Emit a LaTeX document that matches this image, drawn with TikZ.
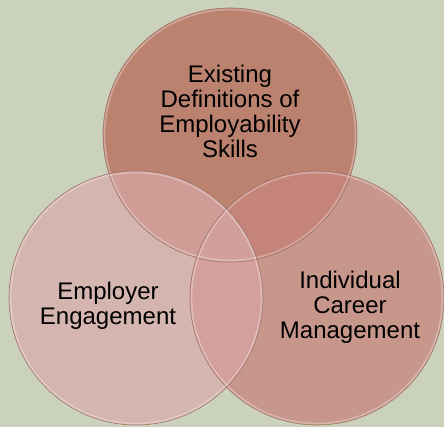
\documentclass[tikz,border=0pt]{standalone}
\usepackage{fontspec}
\setmainfont{Liberation Sans}
\definecolor{bgc}{HTML}{CBD2BB}
\definecolor{topc}{HTML}{BC8270}
\definecolor{leftc}{HTML}{D5B5AF}
\definecolor{rightc}{HTML}{C8978B}
\definecolor{tlc}{HTML}{D09C96}
\definecolor{trc}{HTML}{C4847A}
\definecolor{lrc}{HTML}{D4A09C}
\definecolor{midc}{HTML}{D2A09B}
\definecolor{rimc}{HTML}{9E7468}
\begin{document}
\begin{tikzpicture}[x=1pt,y=-1pt,
  venn/.style={circle,minimum size=254pt,inner sep=0pt},
  rim/.style={draw=rimc,line width=.6pt},
  shine/.style={draw=white,draw opacity=.3,line width=1.6pt},
  lbl/.style={align=center,font=\fontsize{24}{25}\selectfont}]
\fill[bgc] (0,0) rectangle (444,427);
\useasboundingbox (0,0) rectangle (444,427);
%% the three sets
\node[venn,fill=topc] (defs) at (230,135){};
\node[venn,fill=rightc] (career) at (317,298){};
\node[venn,fill=leftc] (employer) at (136,298){};
%% the overlaps, filled by clipping
\begin{scope}
  \clip (defs.center) circle (127pt);
  \fill[trc] (career.center) circle (127pt);
  \fill[tlc] (employer.center) circle (127pt);
\end{scope}
\begin{scope}
  \clip (employer.center) circle (127pt);
  \fill[lrc] (career.center) circle (127pt);
  \clip (career.center) circle (127pt);
  \fill[midc] (defs.center) circle (127pt);
\end{scope}
%% rims
\foreach \c in {defs,career,employer}{
  \draw[shine] (\c.center) circle (125.5pt);
  \draw[rim] (\c.center) circle (127pt);
}
%% labels
\node[lbl] (defstext) at (230,111){Existing\\Definitions of\\Employability\\Skills};
\node[lbl] (employertext) at (108,306){Employer\\Engagement};
\node[lbl] (careertext) at (350,307){Individual\\Career\\Management};
\end{tikzpicture}
\end{document}
